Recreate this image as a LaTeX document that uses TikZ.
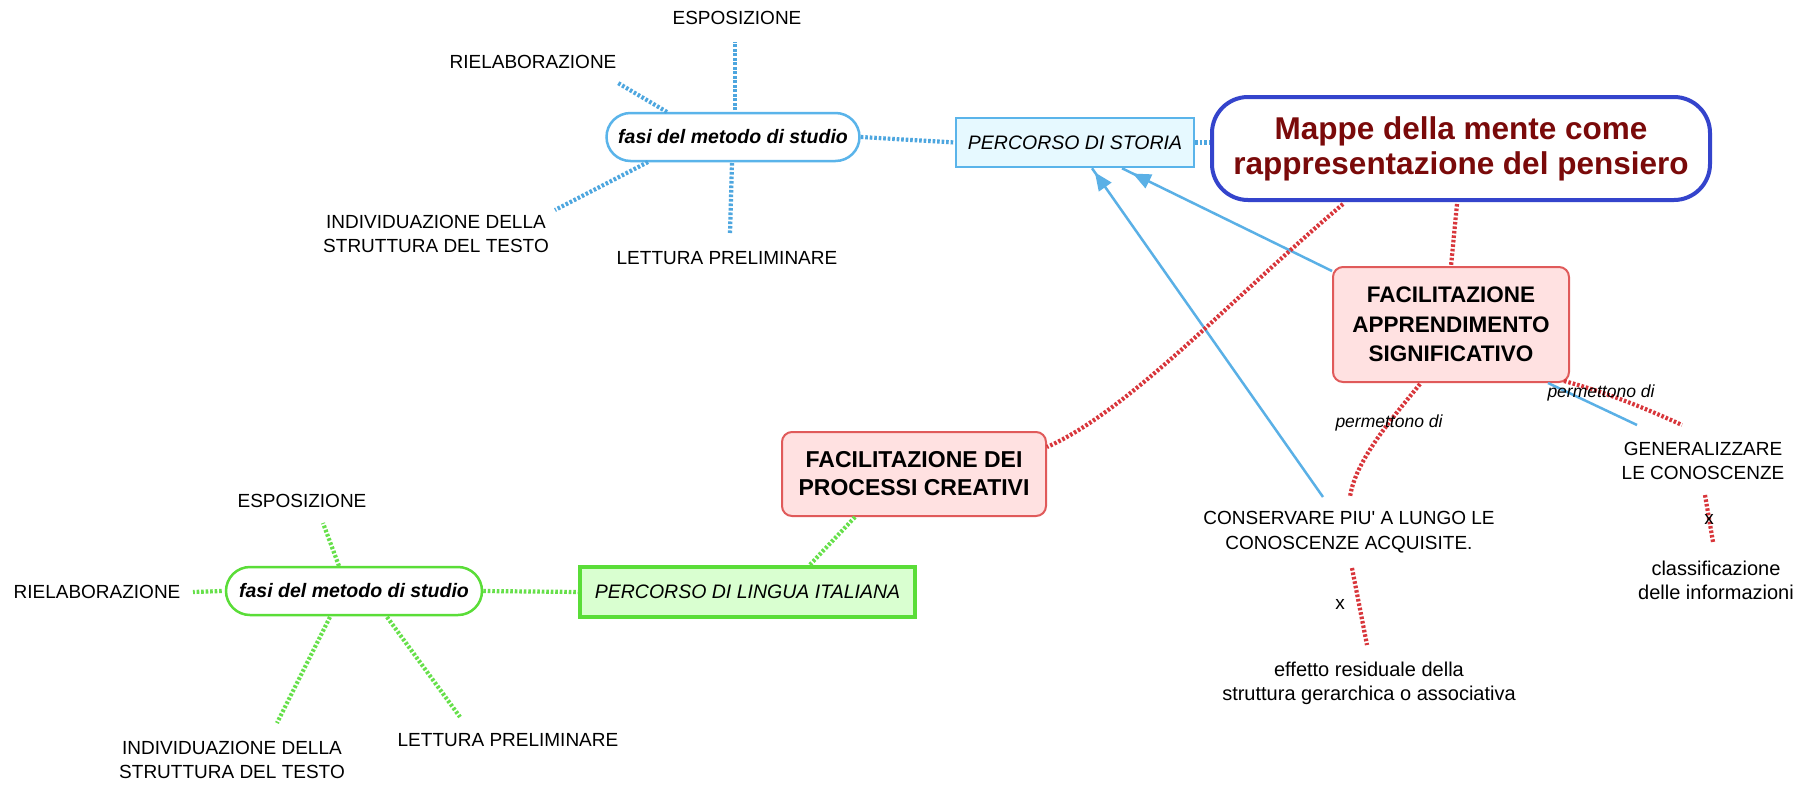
\documentclass[tikz,border=0pt]{standalone}
\usepackage{fontspec}
\setmainfont{Liberation Sans}
\usetikzlibrary{arrows.meta,calc,decorations.markings}
\definecolor{bdot}{HTML}{4DA6DF}
\definecolor{bline}{HTML}{5AB0E6}
\definecolor{rdot}{HTML}{D8363B}
\definecolor{gdot}{HTML}{66E04A}
\definecolor{mapblue}{HTML}{3444CC}
\definecolor{mapred}{HTML}{7A0A0A}
\definecolor{pinkfill}{HTML}{FFE1E1}
\definecolor{pinkdraw}{HTML}{E05A5A}
\definecolor{cyanfill}{HTML}{E6F9FF}
\definecolor{cyandraw}{HTML}{5AB4EA}
\definecolor{greenfill}{HTML}{D9FFD0}
\definecolor{greendraw}{HTML}{5ADD38}
\begin{document}
\begin{tikzpicture}[x=1pt,y=-1pt,
  txt/.style={inner sep=0pt, align=center, font=\fontsize{19}{24.5}\selectfont},
  txtlow/.style={inner sep=0pt, align=center, font=\fontsize{20}{24}\selectfont},
  perm/.style={inner sep=0pt, font=\fontsize{17.5}{20}\selectfont\itshape},
  pill/.style={line width=2.5pt, fill=white, rounded corners=24pt, minimum height=48pt, inner sep=0pt, font=\fontsize{19.5}{24}\selectfont\bfseries\itshape},
  pillblue/.style={pill, draw=cyandraw, minimum width=253pt},
  pillgreen/.style={pill, draw=greendraw, minimum width=256pt},
  storiabox/.style={draw=cyandraw, fill=cyanfill, line width=2.5pt, minimum width=238pt, minimum height=49pt, inner sep=0pt, font=\fontsize{19.5}{24}\selectfont\itshape},
  linguabox/.style={draw=greendraw, fill=greenfill, line width=3.5pt, minimum width=335pt, minimum height=50pt, inner sep=0pt, font=\fontsize{19.5}{24}\selectfont\itshape},
  facbox/.style={draw=pinkdraw, fill=pinkfill, line width=2pt, rounded corners=10pt, inner sep=0pt, align=center},
  mapbox/.style={draw=mapblue, line width=4pt, fill=white, rounded corners=36pt, minimum width=498pt, minimum height=103pt, inner sep=0pt, align=center, text=mapred, font=\fontsize{31.5}{35}\selectfont\bfseries},
  bdotted/.style={draw=bdot, line width=4.2pt, dash pattern=on 2.6pt off 1.9pt},
  rdotted/.style={draw=rdot, line width=4.2pt, dash pattern=on 2.6pt off 1.9pt},
  gdotted/.style={draw=gdot, line width=4.2pt, dash pattern=on 2.6pt off 1.9pt},
  bsolid/.style={color=bline, line width=2.5pt},
  arrowat/.style={postaction={decorate}, decoration={markings, mark=at position #1 with {\arrowreversed{Triangle[length=18pt,width=15pt]}}}},
]
\fill[white] (0,0) rectangle (1816,785);
\useasboundingbox (0,0) rectangle (1816,785);

% nodes
\node[txt] (espB) at (737,18) {ESPOSIZIONE};
\node[txt] (rielB) at (533,62) {RIELABORAZIONE};
\node[pillblue] (fasiB) at (733,137) {fasi del metodo di studio};
\node[txt] (indB) at (436,234) {INDIVIDUAZIONE DELLA\\STRUTTURA DEL TESTO};
\node[txt] (letB) at (727,258) {LETTURA PRELIMINARE};
\node[storiabox] (storia) at (1075,142.5) {PERCORSO DI STORIA};
\node[mapbox] (mappe) at (1461,148.5) {Mappe della mente come\\rappresentazione del pensiero};
\node[facbox, minimum width=236pt, minimum height=115pt, font=\fontsize{22.5}{29.5}\selectfont\bfseries] (facApp) at (1451,324.5) {FACILITAZIONE\\APPRENDIMENTO\\SIGNIFICATIVO};
\node[facbox, minimum width=264pt, minimum height=84pt, font=\fontsize{23}{28}\selectfont\bfseries] (facCre) at (914,474) {FACILITAZIONE DEI\\PROCESSI CREATIVI};
\node[linguabox] (lingua) at (747.5,592) {PERCORSO DI LINGUA ITALIANA};
\node[pillgreen] (fasiG) at (354,591) {fasi del metodo di studio};
\node[txt] (espG) at (302,501) {ESPOSIZIONE};
\node[txt] (rielG) at (97,592) {RIELABORAZIONE};
\node[txt] (indG) at (232,760) {INDIVIDUAZIONE DELLA\\STRUTTURA DEL TESTO};
\node[txt] (letG) at (508,740) {LETTURA PRELIMINARE};
\node[txt] (conserv) at (1349,532) {CONSERVARE PIU\textquotesingle\ A LUNGO LE\\CONOSCENZE ACQUISITE.};
\node[txtlow] (effetto) at (1369,683) {effetto residuale della\\struttura gerarchica o associativa};
\node[txt] (gener) at (1703,461) {GENERALIZZARE\\LE CONOSCENZE};
\node[txtlow] (classif) at (1716,580) {classificazione\\delle informazioni};

% blue cluster
\draw[bdotted] ($(fasiB)+(2,-27)$) -- ($(espB)+(-2,24)$);
\draw[bdotted] ($(fasiB)+(-66,-25)$) -- ($(rielB)+(85,21)$);
\draw[bdotted] ($(fasiB)+(-85,25)$) -- ($(indB)+(119,-24)$);
\draw[bdotted] ($(fasiB)+(-1,26)$) -- ($(letB)+(3,-25)$);
\draw[bdotted] (fasiB.east) -- (storia.west);
\draw[bdotted] (storia.east) -- (storia.east -| mappe.west);

% blue solid connectors
\draw[bsolid, arrowat=5pt] ($(storia.south)+(17,0)$) -- ($(conserv)+(-26,-35)$);
\draw[bsolid, arrowat=12pt] ($(storia.south)+(47,0)$) -- ($(facApp.north west)+(0,5)$);
\draw[bsolid] ($(facApp.south east)+(-22,0)$) -- ($(gener)+(-66,-36)$);

% red dotted
\draw[rdotted] ($(mappe.south)+(-4,2)$) -- (facApp.north);
\draw[rdotted] ($(mappe.south)+(-118,2)$) .. controls (1230,300) and (1130,410) .. ($(facCre.north east)+(0,16)$);
\draw[rdotted] ($(facApp.south)+(-31,1)$) .. controls (1395,415) and (1355,460) .. ($(conserv)+(1,-35)$);
\draw[rdotted] ($(facApp.south east)+(-6,-2)$) .. controls (1605,392) and (1645,408) .. ($(gener)+(-21,-36)$);
\draw[rdotted] ($(conserv)+(3,36)$) -- ($(effetto)+(-2,-38)$);
\draw[rdotted] ($(gener)+(2,34)$) -- ($(classif)+(-3,-38)$);

% green cluster
\draw[gdotted] ($(facCre.south)+(-59,0)$) -- ($(lingua.north)+(62,0)$);
\draw[gdotted] (fasiG.east) -- (lingua.west);
\draw[gdotted] ($(fasiG)+(-15,-25)$) -- ($(espG)+(21,22)$);
\draw[gdotted] ($(fasiG.west)+(-3,0)$) -- ($(rielG)+(96,0)$);
\draw[gdotted] ($(fasiG)+(-24,26)$) -- ($(indG)+(45,-37)$);
\draw[gdotted] ($(fasiG)+(33,26)$) -- ($(letG)+(-48,-23)$);

% labels
\node[perm] (perm1) at (1389,423) {permettono di};
\node[perm] (perm2) at (1601,393) {permettono di};
\node[txt] (x1) at (1340,604) {x};
\node[txt] (x2) at (1709,519) {x};
\end{tikzpicture}
\end{document}
